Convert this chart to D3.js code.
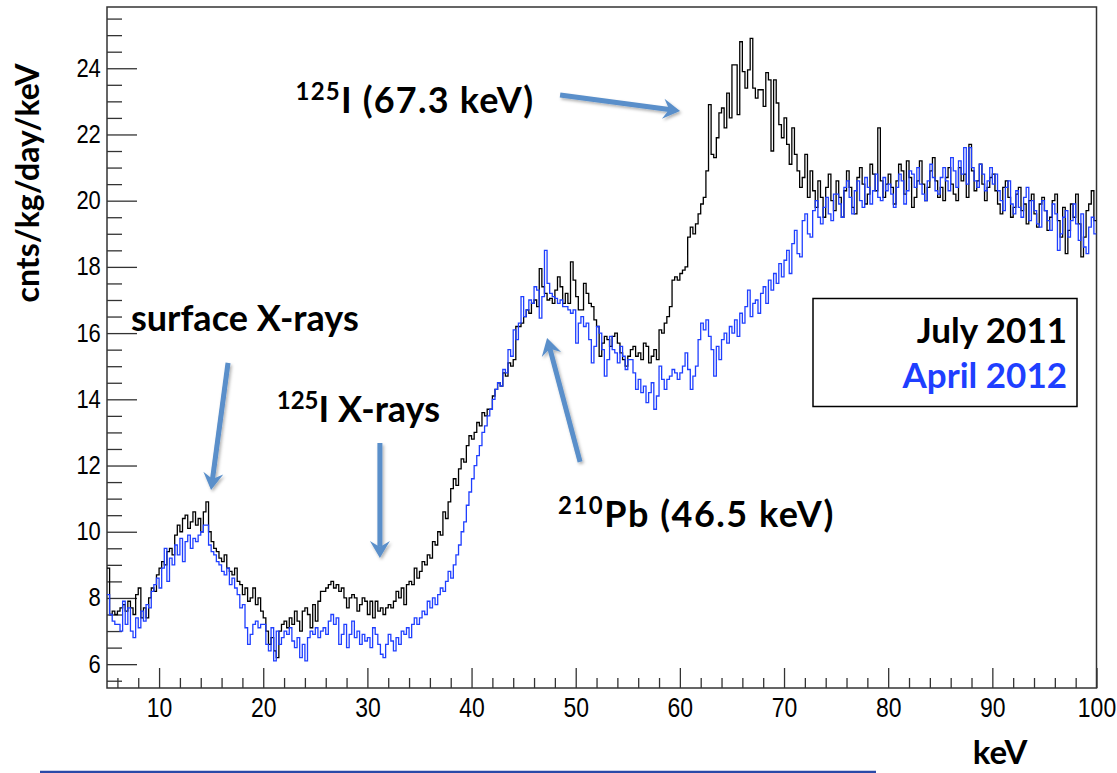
<!DOCTYPE html>
<html>
<head>
<meta charset="utf-8">
<script src="https://cdn.jsdelivr.net/npm/d3@7"></script>
<style>
  body { margin: 0; background: #fff; }
  svg { display: block; }
  .tick text { font-family: "Liberation Sans", Arial, sans-serif; fill: #000; }
  .note { font-family: Lato, "Open Sans", sans-serif; font-weight: bold; }
</style>
</head>
<body>
<div id="chart"></div>
<script>
// Histogram binning: 0.25 keV bins starting at 5 keV
const binLo = 5, binWidth = 0.25;

// July 2011 spectrum (cnts/kg/day/keV), one row = 5 keV
const july2011 = [
  8.9, 7.5, 7.6, 7.5, 7.6, 7.7, 7.8, 7.6, 7.9, 7.7, 7.5, 8.1, 8.3, 7.4, 7.7, 7.4, 8.0, 8.3, 8.2, 8.7,
  8.9, 9.1, 9.0, 9.4, 9.5, 9.3, 9.9, 10.2, 10.0, 10.4, 10.5, 10.1, 10.3, 10.6, 10.2, 10.4, 10.0, 10.6, 10.9, 10.0,
  9.7, 9.5, 9.4, 9.2, 9.1, 9.3, 8.9, 8.8, 8.7, 8.9, 8.5, 8.4, 8.1, 8.3, 7.9, 8.0, 8.3, 7.8, 8.0, 7.6,
  7.4, 7.0, 6.6, 6.8, 6.4, 6.2, 7.0, 7.2, 7.3, 7.1, 7.4, 7.2, 7.6, 7.3, 7.0, 7.6, 7.7, 7.5, 7.1, 7.8,
  7.3, 7.9, 8.2, 8.2, 8.3, 8.4, 8.5, 8.3, 8.4, 8.2, 8.3, 8.0, 7.7, 8.0, 8.1, 8.0, 7.6, 7.8, 8.0, 7.9,
  7.5, 7.9, 7.4, 7.9, 7.6, 7.7, 7.5, 7.7, 7.8, 7.7, 7.9, 8.2, 8.0, 8.3, 7.8, 8.4, 8.5, 8.4, 8.9, 8.6,
  8.8, 9.1, 9.0, 9.3, 9.2, 9.7, 9.6, 10.0, 9.9, 10.6, 10.4, 10.9, 11.3, 11.6, 11.4, 11.9, 12.2, 12.1, 12.6, 12.9,
  12.8, 13.0, 13.3, 13.2, 13.6, 13.5, 13.7, 13.7, 14.1, 14.3, 14.5, 14.4, 14.8, 14.7, 15.1, 15.0, 15.2, 16.2, 16.2, 16.3,
  16.5, 16.7, 16.6, 16.9, 17.0, 16.8, 17.95, 17.4, 17.2, 17.0, 17.05, 16.9, 17.3, 17.7, 17.4, 16.9, 17.2, 16.9, 18.15, 17.6,
  17.1, 16.7, 16.7, 17.5, 17.2, 16.9, 16.8, 16.4, 16.2, 15.3, 15.7, 15.9, 15.8, 15.6, 15.9, 16.0, 15.7, 15.4, 15.2, 15.0,
  15.3, 15.5, 15.6, 15.3, 15.4, 15.2, 15.7, 15.6, 15.1, 15.3, 15.5, 15.2, 16.1, 16.0, 16.3, 16.5, 16.8, 17.6, 17.7, 17.6,
  17.8, 17.9, 18.0, 18.9, 19.2, 19.0, 19.3, 19.6, 19.9, 20.1, 20.9, 22.9, 21.4, 21.3, 21.9, 22.65, 22.8, 22.2, 23.25, 22.5,
  24.1, 24.1, 22.6, 24.8, 23.9, 23.4, 23.95, 24.9, 23.4, 23.1, 23.35, 23.35, 22.85, 23.87, 23.65, 21.5, 23.65, 22.95, 22.3, 21.9,
  22.5, 21.7, 21.1, 22.2, 21.4, 20.9, 20.4, 20.7, 21.4, 20.1, 20.9, 20.3, 19.8, 20.6, 20.1, 19.5, 20.4, 20.8, 20.0, 19.7,
  20.6, 20.1, 19.5, 20.3, 20.9, 20.4, 19.8, 19.6, 20.7, 21.0, 20.5, 19.9, 20.2, 21.1, 20.8, 20.3, 22.2, 20.6, 20.1, 20.5,
  20.8, 20.4, 19.9, 20.6, 21.1, 20.9, 20.2, 21.2, 20.7, 19.8, 20.1, 20.6, 21.2, 20.5, 20.0, 20.4, 20.9, 21.3, 20.6, 20.1,
  20.4, 20.0, 20.7, 21.0, 20.5, 20.2, 20.0, 21.0, 20.6, 20.8, 20.1, 21.7, 20.9, 20.3, 20.6, 21.1, 20.5, 20.0, 20.4, 20.7,
  20.8, 20.3, 19.9, 19.6, 20.4, 20.6, 20.1, 19.5, 19.8, 20.2, 20.4, 19.7, 19.9, 19.3, 20.0, 20.2, 19.6, 19.2, 19.9, 20.1,
  19.7, 19.1, 19.5, 20.0, 20.2, 19.4, 18.9, 19.8, 18.4, 19.1, 19.9, 19.5, 20.2, 19.3, 18.3, 18.9, 19.7, 19.9, 20.3, 19.4
];

// April 2012 spectrum
const april2012 = [
  8.1, 7.5, 7.3, 7.2, 7.2, 7.0, 7.9, 7.2, 7.7, 7.0, 6.8, 7.4, 7.1, 7.6, 7.3, 7.8, 7.7, 8.2, 8.4, 8.6,
  8.3, 8.9, 9.5, 8.5, 9.2, 9.0, 9.6, 9.3, 9.8, 9.1, 9.7, 9.9, 9.5, 9.8, 9.7, 9.9, 10.0, 10.2, 10.2, 9.6,
  9.4, 9.3, 9.1, 9.0, 8.8, 8.7, 8.9, 8.4, 8.6, 8.3, 8.1, 7.7, 7.8, 7.1, 6.6, 6.9, 7.2, 7.3, 7.1, 7.2,
  7.2, 6.6, 6.4, 7.1, 6.1, 7.0, 6.6, 6.8, 7.0, 6.9, 7.1, 6.7, 6.5, 6.8, 6.2, 6.6, 6.1, 6.8, 7.0, 6.9,
  7.1, 6.8, 7.0, 7.1, 6.9, 7.3, 7.5, 7.2, 7.4, 6.6, 6.9, 7.2, 6.5, 6.9, 7.3, 6.8, 7.0, 6.6, 6.9, 6.7,
  6.8, 6.5, 7.1, 6.9, 6.6, 6.3, 6.2, 6.6, 6.9, 6.7, 6.4, 6.8, 6.6, 7.0, 6.9, 7.1, 6.8, 7.2, 7.4, 7.2,
  7.4, 7.6, 7.5, 7.9, 7.7, 8.0, 7.8, 8.1, 8.3, 8.2, 8.5, 8.8, 8.6, 9.0, 9.3, 9.6, 10.0, 10.3, 10.8, 11.2,
  11.6, 12.0, 12.3, 12.6, 13.0, 13.2, 13.5, 13.7, 14.0, 14.3, 14.5, 14.4, 14.9, 14.8, 15.5, 15.3, 16.1, 15.8, 16.3, 17.1,
  16.5, 16.7, 17.0, 16.9, 17.4, 17.3, 16.45, 17.1, 18.5, 17.5, 17.2, 17.1, 17.05, 16.9, 17.0, 16.8, 16.8, 16.7, 16.6, 16.7,
  15.7, 16.3, 16.5, 16.2, 16.3, 15.8, 15.1, 15.6, 16.2, 16.0, 15.5, 14.7, 15.2, 15.9, 15.5, 15.4, 15.1, 15.6, 15.3, 14.9,
  15.2, 15.2, 14.8, 14.3, 14.6, 14.2, 14.4, 13.9, 14.2, 14.5, 13.7, 14.1, 15.0, 14.6, 14.3, 14.6, 14.7, 14.9, 14.8, 14.6,
  14.8, 15.0, 15.4, 14.9, 14.3, 14.7, 15.0, 15.8, 16.3, 16.1, 16.4, 15.9, 15.5, 14.7, 15.6, 15.2, 15.8, 16.0, 15.7, 16.2,
  16.0, 16.4, 15.9, 16.6, 16.3, 16.8, 17.3, 16.5, 16.9, 17.0, 16.6, 17.2, 17.4, 16.9, 17.6, 17.3, 17.8, 17.5, 18.1, 17.7,
  18.2, 18.5, 17.8, 18.7, 19.1, 18.4, 18.3, 19.4, 19.6, 19.0, 18.9, 19.7, 20.0, 19.5, 19.3, 19.8, 20.1, 19.6, 19.4, 20.2,
  20.2, 19.9, 19.5, 20.4, 20.6, 20.1, 19.6, 20.3, 20.6, 20.0, 19.8, 20.7, 20.4, 19.9, 20.3, 20.8, 20.1, 20.0, 20.7, 20.3,
  20.5, 20.2, 19.8, 20.4, 20.8, 20.6, 19.9, 20.3, 20.9, 20.8, 20.4, 21.0, 20.5, 20.2, 20.0, 20.6, 21.1, 20.7, 20.3, 20.2,
  20.7, 21.0, 20.6, 20.3, 21.3, 20.9, 20.4, 21.2, 20.8, 21.6, 20.5, 21.6, 21.0, 20.6, 20.4, 21.1, 20.8, 20.3, 20.6, 21.0,
  20.5, 20.8, 20.3, 20.0, 19.7, 20.4, 20.6, 19.9, 19.6, 20.3, 19.8, 19.5, 20.1, 20.4, 19.4, 20.0, 19.7, 19.3, 19.2, 20.0,
  19.7, 19.4, 19.1, 19.9, 19.6, 18.5, 19.0, 19.5, 19.7, 18.9, 19.4, 19.9, 19.3, 18.8, 19.6, 18.6, 18.4, 19.2, 19.5, 19.0
];

// Tick labels
const xTicks = [10, 20, 30, 40, 50, 60, 70, 80, 90, 100];
const yTicks = [6, 8, 10, 12, 14, 16, 18, 20, 22, 24];

// Legend entries
const legendLabels = ["July 2011", "April 2012"];
const legendColors = ["#000000", "#1f3fff"];

// Annotations: label text pieces and arrows, in data units (keV, counts)
const notes = [
  { sup: "",    text: "surface X-rays",  x: 7.3,  y: 16.07, spacing: 0 },
  { sup: "125", text: "I X-rays",        x: 21.3, y: 13.32, spacing: 0 },
  { sup: "125", text: "I (67.3 keV)",    x: 23.1, y: 22.66, spacing: 1.2 },
  { sup: "210", text: "Pb (46.5 keV)",   x: 48.3, y: 10.14, spacing: 1.5 }
];
const arrows = [
  { x1: 16.62, y1: 15.10, x2: 14.99, y2: 11.26 },
  { x1: 31.20, y1: 12.68, x2: 31.20, y2: 9.21 },
  { x1: 48.50, y1: 23.19, x2: 60.02, y2: 22.71 },
  { x1: 50.42, y1: 12.11, x2: 47.25, y2: 15.85 }
];

// Dimensions
const W = 1117, H = 773;
const plot = { left: 107, right: 1096.5, top: 7, bottom: 688 };

const svg = d3.select("#chart").append("svg")
  .attr("width", W)
  .attr("height", H);

const defs = svg.append("defs");
defs.append("clipPath").attr("id", "clip")
  .append("rect")
  .attr("x", plot.left).attr("y", plot.top)
  .attr("width", plot.right - plot.left).attr("height", plot.bottom - plot.top);
defs.append("filter").attr("id", "shadow")
  .attr("x", "-20%").attr("y", "-20%").attr("width", "140%").attr("height", "140%")
  .append("feDropShadow")
  .attr("dx", 1.5).attr("dy", 2).attr("stdDeviation", 1.6)
  .attr("flood-color", "#000").attr("flood-opacity", 0.3);

// Scales
const x = d3.scaleLinear().domain([5, 100]).range([plot.left, plot.right]);
const y = d3.scaleLinear().domain([5.28, 25.85]).range([plot.bottom, plot.top]);

// Minor ticks
const xMinor = d3.range(6, 100, 2).filter(d => d % 10 !== 0);
const yMinor = d3.range(5.5, 25.6, 0.5).filter(d => !yTicks.includes(d));

// Y axis: ticks pointing into the frame
svg.append("g")
  .attr("transform", `translate(${plot.left},0)`)
  .call(d3.axisLeft(y).tickValues(yMinor).tickSizeInner(-15).tickSizeOuter(0).tickFormat(""))
  .call(g => g.select(".domain").remove());

svg.append("g")
  .attr("transform", `translate(${plot.left},0)`)
  .call(d3.axisLeft(y).tickValues(yTicks).tickSizeInner(-30).tickSizeOuter(0).tickPadding(7))
  .call(g => g.select(".domain").remove())
  .call(g => g.selectAll("text")
    .style("font-size", "25px")
    .attr("transform", "scale(0.88,1)"));

// X axis
svg.append("g")
  .attr("transform", `translate(0,${plot.bottom})`)
  .call(d3.axisBottom(x).tickValues(xMinor).tickSizeInner(-10).tickSizeOuter(0).tickFormat(""))
  .call(g => g.select(".domain").remove());

svg.append("g")
  .attr("transform", `translate(0,${plot.bottom})`)
  .call(d3.axisBottom(x).tickValues(xTicks).tickSizeInner(-20).tickSizeOuter(0).tickPadding(9))
  .call(g => g.select(".domain").remove())
  .call(g => g.selectAll("text")
    .style("font-size", "28px")
    .attr("transform", "scale(0.82,1)"));

svg.selectAll(".tick line").attr("stroke", "#333").attr("stroke-width", 1.3);

// Frame
svg.append("rect")
  .attr("x", plot.left).attr("y", plot.top)
  .attr("width", plot.right - plot.left).attr("height", plot.bottom - plot.top)
  .attr("fill", "none")
  .attr("stroke", "#333")
  .attr("stroke-width", 1.5);

// Histograms drawn as step lines
function toSteps(values) {
  const pts = values.map((v, i) => [binLo + i * binWidth, v]);
  pts.push([binLo + values.length * binWidth, values[values.length - 1]]);
  return pts;
}
const stepLine = d3.line()
  .x(d => x(d[0]))
  .y(d => y(d[1]))
  .curve(d3.curveStepAfter);

const hist = svg.append("g").attr("clip-path", "url(#clip)");
[july2011, april2012].forEach((series, i) => {
  hist.append("path")
    .datum(toSteps(series))
    .attr("d", stepLine)
    .attr("fill", "none")
    .attr("stroke", legendColors[i])
    .attr("stroke-width", 1.3)
    .attr("stroke-linejoin", "miter");
});

// Legend box
const legend = svg.append("g");
legend.append("rect")
  .attr("x", 813).attr("y", 298.5)
  .attr("width", 264).attr("height", 108)
  .attr("fill", "#fff")
  .attr("stroke", "#000")
  .attr("stroke-width", 1.5);
legend.selectAll("text")
  .data(legendLabels)
  .enter()
  .append("text")
  .attr("class", "note")
  .attr("x", 1067)
  .attr("y", (d, i) => 343 + i * 45)
  .attr("text-anchor", "end")
  .style("font-size", "35px")
  .attr("fill", (d, i) => legendColors[i])
  .text(d => d);

// Arrows
const arrowColor = "#5a8fca";
const arrowG = svg.append("g").attr("filter", "url(#shadow)");
arrows.forEach(a => {
  const x1 = x(a.x1), y1 = y(a.y1), x2 = x(a.x2), y2 = y(a.y2);
  const len = Math.hypot(x2 - x1, y2 - y1);
  const ux = (x2 - x1) / len, uy = (y2 - y1) / len;
  const px = -uy, py = ux;
  const headLen = 17, headW = 10, notch = 6;
  arrowG.append("line")
    .attr("x1", x1).attr("y1", y1)
    .attr("x2", x2 - ux * (headLen - notch)).attr("y2", y2 - uy * (headLen - notch))
    .attr("stroke", arrowColor)
    .attr("stroke-width", 5);
  const bx = x2 - ux * headLen, by = y2 - uy * headLen;
  const nx = x2 - ux * (headLen - notch), ny = y2 - uy * (headLen - notch);
  arrowG.append("path")
    .attr("d", `M${x2},${y2} L${bx + px * headW},${by + py * headW} L${nx},${ny} L${bx - px * headW},${by - py * headW} Z`)
    .attr("fill", arrowColor);
});

// Annotation labels with superscript isotope numbers
notes.forEach(n => {
  const t = svg.append("text")
    .attr("class", "note")
    .attr("x", x(n.x))
    .attr("y", y(n.y))
    .style("font-size", "36px")
    .style("letter-spacing", n.spacing + "px")
    .attr("fill", "#000");
  if (n.sup) {
    t.append("tspan").style("font-size", "24px").attr("dy", -13).text(n.sup);
    t.append("tspan").attr("dy", 13).text(n.text);
  } else {
    t.text(n.text);
  }
});

// Axis titles
svg.append("text")
  .attr("class", "note")
  .attr("transform", "translate(39,183) rotate(-90)")
  .attr("text-anchor", "middle")
  .style("font-size", "32px")
  .text("cnts/kg/day/keV");

svg.append("text")
  .attr("class", "note")
  .attr("x", 1000)
  .attr("y", 764)
  .attr("text-anchor", "middle")
  .style("font-size", "33px")
  .text("keV");

// Slide rule line under the chart
svg.append("line")
  .attr("x1", 40).attr("x2", 876)
  .attr("y1", 772).attr("y2", 772)
  .attr("stroke", "#2a4aa8")
  .attr("stroke-width", 2.5);
</script>
</body>
</html>
